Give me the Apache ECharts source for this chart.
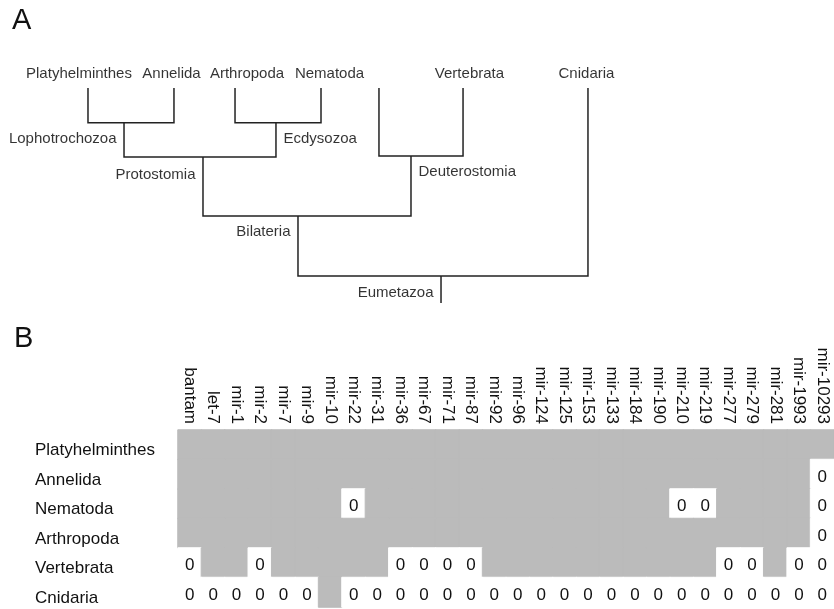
<!DOCTYPE html>
<html><head><meta charset="utf-8">
<script src="https://cdn.jsdelivr.net/npm/echarts@6/dist/echarts.min.js"></script>
<style>html,body{margin:0;padding:0;background:#fff}#c{width:834px;height:609px}</style>
</head><body><div id="c"></div>
<script>
// ---------- Panel A: cladogram ----------
const nodeNames  = ['Platyhelminthes','Annelida','Arthropoda','Nematoda','','Vertebrata','Cnidaria','Lophotrochozoa','Ecdysozoa','Protostomia','Deuterostomia','Bilateria','Eumetazoa'];
const nodeParent = [7, 7, 8, 8, 10, 10, 12, 9, 9, 11, 11, 12, -1];
const nodeX      = [10.55, 20.86, 28.18, 38.49, 45.44, 55.52, 70.5, 14.87, 33.09, 24.34, 49.28, 35.73, 52.88];
const nodeDepth  = [0, 0, 0, 0, 0, 0, 0, 1.01, 1.01, 2.0, 1.97, 3.71, 5.45];
const rootStemEnd = 6.23;
const labelX     = [9.47, 20.56, 29.62, 39.51, 45.44, 56.29, 70.32, 14.87, 33.09, 24.34, 49.28, 35.73, 52.88];
const labelDepth = [-0.41, -0.41, -0.41, -0.41, -0.41, -0.41, -0.41, 1.48, 1.48, 2.52, 2.43, 4.17, 5.94];
const labelSide  = ['inside','inside','inside','inside','inside','inside','inside','left','right','left','right','left','left'];

// ---------- Panel B: presence matrix ----------
const mirnas = ['bantam','let-7','mir-1','mir-2','mir-7','mir-9','mir-10','mir-22','mir-31','mir-36','mir-67','mir-71','mir-87','mir-92','mir-96','mir-124','mir-125','mir-153','mir-133','mir-184','mir-190','mir-210','mir-219','mir-277','mir-279','mir-281','mir-1993','mir-10293'];
const taxa = ['Platyhelminthes','Annelida','Nematoda','Arthropoda','Vertebrata','Cnidaria'];
const platyhelminthes = [1,1,1,1,1,1,1,1,1,1,1,1,1,1,1,1,1,1,1,1,1,1,1,1,1,1,1,1];
const annelida        = [1,1,1,1,1,1,1,1,1,1,1,1,1,1,1,1,1,1,1,1,1,1,1,1,1,1,1,0];
const nematoda        = [1,1,1,1,1,1,1,0,1,1,1,1,1,1,1,1,1,1,1,1,1,0,0,1,1,1,1,0];
const arthropoda      = [1,1,1,1,1,1,1,1,1,1,1,1,1,1,1,1,1,1,1,1,1,1,1,1,1,1,1,0];
const vertebrata      = [0,1,1,0,1,1,1,1,1,0,0,0,0,1,1,1,1,1,1,1,1,1,1,0,0,1,0,0];
const cnidaria        = [0,0,0,0,0,0,1,0,0,0,0,0,0,0,0,0,0,0,0,0,0,0,0,0,0,0,0,0];
const matrix = [platyhelminthes, annelida, nematoda, arthropoda, vertebrata, cnidaria];

const GRAY = '#bbbbbb';
const WHITE = '#ffffff';

// build tree lines
const treeLines = [];
nodeNames.forEach((n, i) => {
  const p = nodeParent[i];
  if (p >= 0) {
    treeLines.push({coords: [[nodeX[i], nodeDepth[i]], [nodeX[i], nodeDepth[p]], [nodeX[p], nodeDepth[p]]]});
  } else {
    treeLines.push({coords: [[nodeX[i], nodeDepth[i]], [nodeX[i], rootStemEnd]]});
  }
});
const treeLabels = nodeNames.map((n, i) => ({
  name: n,
  value: [labelX[i], labelDepth[i]],
  label: {position: labelSide[i], distance: labelSide[i] === 'inside' ? 0 : 7}
}));

const heatData = [];
matrix.forEach((row, r) => row.forEach((v, c) => heatData.push({
  value: [c, r, v],
  itemStyle: {borderColor: v ? GRAY : WHITE, borderWidth: 1}
})));

const FONT = '"Liberation Sans", Arial, sans-serif';
const chart = echarts.init(document.getElementById('c'), null, {renderer: 'canvas'});
chart.setOption({
  backgroundColor: '#ffffff',
  animation: false,
  textStyle: {fontFamily: FONT},
  graphic: [
    {type: 'text', left: 12, top: 6, style: {text: 'A', font: '29px ' + FONT, fill: '#111'}},
    {type: 'text', left: 14, top: 324, style: {text: 'B', font: '29px ' + FONT, fill: '#111'}}
  ],
  grid: [
    {left: 0, top: 53.5, width: 834, height: 276},
    {left: 178, top: 430, width: 661.6, height: 177}
  ],
  xAxis: [
    {gridIndex: 0, type: 'value', min: 0, max: 100, show: false},
    {gridIndex: 1, type: 'category', data: mirnas, position: 'top',
     axisLine: {show: false}, axisTick: {show: false}, splitLine: {show: false},
     axisLabel: {interval: 0, rotate: 90, margin: 6, fontSize: 17, color: '#111', fontFamily: FONT}}
  ],
  yAxis: [
    {gridIndex: 0, type: 'value', min: -1, max: 7, inverse: true, show: false},
    {gridIndex: 1, type: 'category', data: taxa, inverse: true,
     axisLine: {show: false}, axisTick: {show: false}, splitLine: {show: false},
     axisLabel: {align: 'left', margin: 143, fontSize: 17, color: '#111', fontFamily: FONT,
       verticalAlign: 'top', lineHeight: 12}}
  ],
  visualMap: {
    type: 'piecewise', show: false, seriesIndex: 2, dimension: 2,
    pieces: [{value: 0, color: WHITE}, {value: 1, color: GRAY}]
  },
  series: [
    {type: 'lines', coordinateSystem: 'cartesian2d', xAxisIndex: 0, yAxisIndex: 0,
     polyline: true, silent: true, data: treeLines,
     lineStyle: {color: '#222', width: 1.5, opacity: 1}},
    {type: 'scatter', xAxisIndex: 0, yAxisIndex: 0, symbolSize: 1, silent: true,
     itemStyle: {color: 'rgba(0,0,0,0)'}, data: treeLabels,
     label: {show: true, formatter: '{b}', fontSize: 15, color: '#000', fontFamily: FONT,
       textBorderWidth: 0}},
    {type: 'heatmap', xAxisIndex: 1, yAxisIndex: 1, data: heatData, silent: true,
     label: {show: true, fontSize: 17, color: '#111', fontFamily: FONT, offset: [0, 3],
       formatter: p => p.value[2] === 0 ? '0' : ''}}
  ]
});
</script></body></html>
